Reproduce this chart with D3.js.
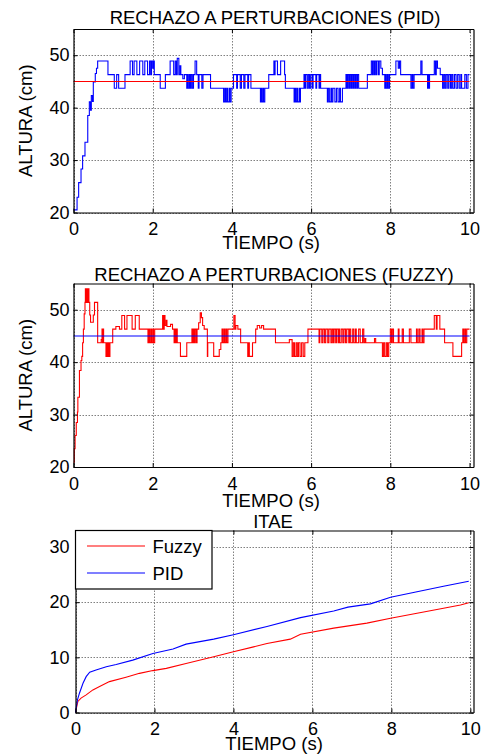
<!DOCTYPE html>
<html>
<head>
<meta charset="utf-8">
<script src="https://cdn.jsdelivr.net/npm/d3@7"></script>
<style>
    body { margin: 0; background: #fff; }
    svg text { font-family: "Liberation Sans", Arial, sans-serif; fill: #000; }
</style>
</head>
<body>
<div class="chart"></div>
<script>
// [tiempo (s), altura (cm)] - step changes of the measured level
var pidHeight = [
    [0, 20.5], [0.09, 22.9], [0.13, 25.7], [0.19, 28.3], [0.23, 30.8], [0.29, 33.4], [0.36, 38.5],
    [0.4, 41.1], [0.43, 39.5], [0.45, 42.3], [0.48, 41.2], [0.5, 44.9], [0.55, 46.5], [0.58, 47.5],
    [0.61, 48.9], [0.87, 46.3], [1.03, 43.7], [1.09, 46.3], [1.14, 43.7], [1.3, 46.3], [1.43, 48.9],
    [1.49, 46.3], [1.53, 48.9], [1.6, 46.3], [1.67, 48.9], [1.75, 46.3], [1.8, 48.9], [1.87, 46.3],
    [1.92, 48.9], [1.95, 46.3], [1.97, 48.9], [2.0, 47.5], [2.02, 48.9], [2.04, 46.3], [2.19, 43.7],
    [2.32, 46.3], [2.44, 48.9], [2.53, 46.3], [2.57, 48.9], [2.6, 46.3], [2.62, 49.4], [2.66, 46.3],
    [2.69, 48.0], [2.71, 46.3], [2.76, 45.5], [2.8, 46.3], [2.86, 43.7], [2.88, 46.3], [2.9, 43.7],
    [2.93, 46.3], [2.95, 43.7], [2.97, 46.3], [3.0, 43.7], [3.03, 46.3], [3.07, 48.9], [3.11, 46.3],
    [3.15, 43.7], [3.17, 46.3], [3.24, 43.7], [3.27, 46.3], [3.46, 43.7], [3.79, 41.1], [3.82, 43.7],
    [3.84, 41.1], [3.87, 43.7], [3.89, 41.1], [3.93, 43.7], [3.95, 41.1], [3.98, 43.7], [4.04, 46.3],
    [4.12, 43.7], [4.14, 46.3], [4.21, 43.7], [4.24, 46.3], [4.3, 43.7], [4.33, 46.3], [4.4, 43.7],
    [4.42, 46.3], [4.48, 43.7], [4.72, 41.1], [4.74, 43.7], [4.76, 41.1], [4.79, 43.7], [4.8, 41.1],
    [4.83, 43.7], [4.93, 46.3], [5.06, 48.9], [5.08, 46.3], [5.09, 48.9], [5.15, 46.3], [5.23, 48.9],
    [5.33, 46.3], [5.35, 43.7], [5.57, 41.1], [5.59, 43.7], [5.61, 41.1], [5.64, 43.7], [5.66, 41.1],
    [5.7, 43.7], [5.72, 41.1], [5.73, 43.7], [5.82, 46.3], [5.84, 43.7], [5.86, 46.3], [5.9, 43.7],
    [5.93, 46.3], [5.96, 43.7], [5.99, 46.3], [6.03, 43.7], [6.05, 46.3], [6.12, 43.7], [6.14, 46.3],
    [6.2, 43.7], [6.22, 46.3], [6.24, 43.7], [6.41, 41.1], [6.43, 43.7], [6.46, 41.1], [6.5, 43.7],
    [6.52, 41.1], [6.55, 43.7], [6.6, 41.1], [6.64, 43.7], [6.68, 41.1], [6.72, 43.7], [6.74, 41.1],
    [6.79, 43.7], [6.88, 46.3], [6.9, 43.7], [6.92, 46.3], [6.95, 43.7], [6.97, 46.3], [7.0, 43.7],
    [7.02, 46.3], [7.05, 43.7], [7.07, 46.3], [7.1, 43.7], [7.12, 46.3], [7.15, 43.7], [7.17, 46.3],
    [7.2, 43.7], [7.42, 46.3], [7.52, 48.9], [7.55, 46.3], [7.57, 48.9], [7.6, 46.3], [7.61, 48.9],
    [7.64, 46.3], [7.66, 48.9], [7.7, 46.3], [7.72, 48.9], [7.76, 47.5], [7.8, 46.3], [7.86, 43.7],
    [7.88, 46.3], [7.9, 43.7], [7.93, 46.3], [7.95, 43.7], [7.98, 46.3], [8.14, 48.9], [8.2, 47.5],
    [8.23, 48.9], [8.26, 46.3], [8.52, 43.7], [8.55, 46.3], [8.57, 43.7], [8.6, 46.3], [8.77, 48.9],
    [8.8, 46.3], [8.94, 43.7], [8.96, 46.3], [8.97, 43.7], [8.99, 46.3], [9.11, 48.9], [9.14, 46.3],
    [9.16, 48.9], [9.19, 47.5], [9.26, 46.3], [9.32, 43.7], [9.35, 46.3], [9.38, 43.7], [9.41, 46.3],
    [9.45, 43.7], [9.48, 46.3], [9.52, 43.7], [9.55, 46.3], [9.58, 43.7], [9.62, 46.3], [9.66, 43.7],
    [9.7, 46.3], [9.74, 43.7], [9.78, 46.3], [9.8, 43.7], [9.88, 46.3], [9.92, 43.7], [9.96, 46.3],
    [10.0, 46.3]
];

var fuzzyHeight = [
    [0, 20.9], [0.02, 23.5], [0.04, 26.0], [0.07, 28.5], [0.1, 30.5], [0.11, 33.3], [0.15, 38.4],
    [0.19, 40.3], [0.21, 41.1], [0.23, 43.7], [0.25, 46.3], [0.27, 49.2], [0.29, 51.4], [0.3, 54.0],
    [0.32, 51.4], [0.34, 54.0], [0.36, 51.4], [0.37, 54.0], [0.39, 51.4], [0.41, 49.0], [0.43, 47.6],
    [0.5, 49.0], [0.53, 51.4], [0.61, 43.7], [0.7, 44.3], [0.72, 46.3], [0.73, 43.7], [0.74, 46.3],
    [0.76, 43.7], [0.82, 41.1], [0.84, 43.7], [0.86, 41.1], [0.88, 43.7], [0.9, 41.1], [0.92, 43.7],
    [0.99, 46.3], [1.07, 46.8], [1.16, 46.3], [1.22, 48.9], [1.29, 46.3], [1.35, 48.9], [1.48, 46.3],
    [1.56, 48.9], [1.66, 46.3], [1.88, 43.7], [1.9, 46.3], [1.92, 43.7], [1.95, 46.3], [1.97, 43.7],
    [2.0, 46.3], [2.02, 43.7], [2.05, 46.3], [2.25, 48.9], [2.27, 46.3], [2.29, 48.9], [2.31, 47.0],
    [2.34, 48.0], [2.36, 46.8], [2.45, 47.2], [2.5, 46.3], [2.54, 43.7], [2.56, 46.3], [2.58, 43.7],
    [2.6, 46.3], [2.62, 43.7], [2.7, 41.1], [2.86, 43.7], [2.99, 46.3], [3.01, 43.7], [3.03, 46.3],
    [3.05, 43.7], [3.07, 46.3], [3.1, 43.7], [3.12, 46.3], [3.16, 47.5], [3.2, 49.4], [3.23, 48.5],
    [3.26, 47.0], [3.3, 46.3], [3.38, 41.1], [3.39, 43.7], [3.54, 41.1], [3.68, 42.4], [3.72, 43.7],
    [3.75, 46.3], [3.77, 43.7], [3.8, 46.3], [3.82, 43.7], [3.85, 46.3], [3.87, 43.7], [3.9, 46.3],
    [4.05, 48.9], [4.08, 46.3], [4.1, 47.0], [4.15, 46.3], [4.22, 43.7], [4.4, 41.1], [4.42, 43.7],
    [4.44, 41.1], [4.52, 43.7], [4.6, 46.3], [4.64, 47.0], [4.7, 46.5], [4.75, 47.0], [4.8, 46.3],
    [5.1, 43.7], [5.45, 44.3], [5.52, 41.1], [5.55, 43.7], [5.58, 41.1], [5.62, 43.7], [5.65, 41.1],
    [5.68, 43.7], [5.72, 41.1], [5.76, 43.7], [5.8, 41.1], [5.84, 43.7], [5.92, 46.3], [6.2, 43.7],
    [6.22, 46.3], [6.27, 43.7], [6.3, 46.3], [6.34, 43.7], [6.37, 46.3], [6.42, 43.7], [6.45, 46.3],
    [6.5, 43.7], [6.53, 46.3], [6.56, 43.7], [6.58, 46.3], [6.62, 43.7], [6.64, 46.3], [6.68, 43.7],
    [6.7, 46.3], [6.72, 43.7], [6.76, 46.3], [6.8, 43.7], [6.83, 46.3], [6.87, 43.7], [6.9, 46.3],
    [6.95, 43.7], [6.97, 46.3], [7.0, 43.7], [7.05, 46.3], [7.08, 43.7], [7.12, 46.3], [7.14, 43.7],
    [7.2, 46.3], [7.24, 43.7], [7.3, 46.3], [7.33, 43.7], [7.36, 44.5], [7.38, 43.7], [7.6, 44.5],
    [7.63, 43.7], [7.8, 41.1], [7.83, 43.7], [7.86, 41.1], [7.9, 43.7], [7.93, 41.1], [7.96, 43.7],
    [8.0, 46.3], [8.03, 43.7], [8.05, 46.3], [8.08, 43.7], [8.2, 46.3], [8.22, 43.7], [8.3, 46.3],
    [8.33, 43.7], [8.48, 46.3], [8.52, 43.7], [8.66, 46.3], [8.68, 43.7], [8.72, 46.3], [8.75, 43.7],
    [8.8, 46.3], [8.82, 43.7], [8.85, 46.3], [9.11, 48.9], [9.16, 46.3], [9.18, 48.9], [9.25, 46.3],
    [9.37, 43.7], [9.58, 41.1], [9.8, 43.7], [9.83, 46.3], [9.85, 43.7], [9.88, 46.3], [9.9, 43.7],
    [9.93, 46.3], [10.0, 46.3]
];

var setpoint = [[0, 45], [10, 45]];

// [tiempo (s), ITAE]
var itaeFuzzy = [
    [0, 0], [0.06, 2.0], [0.14, 2.6], [0.27, 3.2], [0.44, 4.1], [0.61, 4.7], [0.86, 5.6], [1.28, 6.4],
    [1.62, 7.1], [1.96, 7.6], [2.3, 8.0], [2.8, 8.9], [3.5, 10.1], [4.0, 11.0], [4.51, 11.9],
    [4.85, 12.5], [5.44, 13.3], [5.7, 14.2], [6.54, 15.3], [7.38, 16.2], [7.98, 17.1], [8.65, 18.0],
    [9.32, 18.9], [9.75, 19.5], [9.96, 19.9]
];
var itaePid = [
    [0, 0], [0.05, 2.3], [0.1, 3.5], [0.19, 5.3], [0.27, 6.5], [0.36, 7.3], [0.52, 7.7], [0.78, 8.3],
    [1.03, 8.7], [1.45, 9.5], [1.96, 10.7], [2.47, 11.5], [2.8, 12.4], [3.5, 13.3], [4.0, 14.1],
    [4.85, 15.6], [5.7, 17.2], [6.54, 18.4], [6.9, 19.1], [7.47, 19.7], [7.98, 20.9], [8.65, 21.9],
    [9.32, 22.9], [9.96, 23.8]
];

var timeTicks = [0, 2, 4, 6, 8, 10];
var heightTicks = [20, 30, 40, 50];
var itaeTicks = [0, 10, 20, 30];
var legendNames = ['Fuzzy', 'PID'];

var svg = d3.select('.chart')
    .append('svg')
    .attr('width', 483)
    .attr('height', 755);

function drawPanel(p) {
    var x = d3.scaleLinear().domain(p.xDomain).range([p.left, p.right]);
    var y = d3.scaleLinear().domain(p.yDomain).range([p.bottom, p.top]);
    var g = svg.append('g');

    // dotted grid
    g.selectAll('.gx').data(timeTicks).enter().append('line')
        .attr('x1', d => Math.round(x(d)) + 0.5).attr('x2', d => Math.round(x(d)) + 0.5)
        .attr('y1', p.top).attr('y2', p.bottom)
        .attr('stroke', '#808080').attr('stroke-dasharray', '1.5,1.5');
    g.selectAll('.gy').data(p.yTicks).enter().append('line')
        .attr('x1', p.left).attr('x2', p.right)
        .attr('y1', d => Math.round(y(d)) + 0.5).attr('y2', d => Math.round(y(d)) + 0.5)
        .attr('stroke', '#808080').attr('stroke-dasharray', '1.5,1.5');

    var line = d3.line().x(d => x(d[0])).y(d => y(d[1]));
    p.series.forEach(function (s) {
        g.append('path')
            .datum(s.data)
            .attr('d', line.curve(s.step ? d3.curveStepAfter : d3.curveLinear))
            .attr('fill', 'none')
            .attr('stroke', s.color)
            .attr('stroke-width', 1.1);
    });

    // box with inward ticks
    var axes = [
        [d3.axisBottom(x).tickValues(timeTicks), 'translate(0,' + p.bottom + ')', true],
        [d3.axisTop(x).tickValues(timeTicks).tickFormat(''), 'translate(0,' + p.top + ')', false],
        [d3.axisLeft(y).tickValues(p.yTicks), 'translate(' + p.left + ',0)', true],
        [d3.axisRight(y).tickValues(p.yTicks).tickFormat(''), 'translate(' + p.right + ',0)', false]
    ];
    axes.forEach(function (a, i) {
        var ax = g.append('g')
            .attr('transform', a[1])
            .call(a[0].tickSize(-4).tickSizeOuter(0).tickPadding(i == 0 ? 10 : p.yPad));
        ax.select('.domain').attr('stroke', '#000').attr('stroke-width', 1.2);
        ax.selectAll('.tick line').attr('stroke', '#000');
        ax.selectAll('.tick text').attr('font-size', 18).attr('font-family', null);
    });

    g.append('text')
        .attr('x', p.titleX).attr('y', p.titleY)
        .attr('text-anchor', 'middle').attr('font-size', 18.5)
        .text(p.title);
    g.append('text')
        .attr('x', p.xlabelX).attr('y', p.xlabelY)
        .attr('text-anchor', 'middle').attr('font-size', 18.5)
        .text('TIEMPO (s)');
    if (p.ylabel) {
        g.append('text')
            .attr('transform', 'translate(32,' + (p.top + p.bottom) / 2 + ') rotate(-90)')
            .attr('text-anchor', 'middle').attr('font-size', 18.5)
            .text(p.ylabel);
    }
    return { x: x, y: y, g: g };
}

drawPanel({
    left: 73.5, right: 473.5, top: 29, bottom: 212.5,
    xDomain: [0, 10.1], yDomain: [20, 55], yTicks: heightTicks, yPad: 4,
    title: 'RECHAZO A PERTURBACIONES (PID)', titleX: 275, titleY: 24,
    xlabelX: 271, xlabelY: 249, ylabel: 'ALTURA (cm)',
    series: [
        { data: pidHeight, color: '#0000ff', step: true },
        { data: setpoint, color: '#ff0000' }
    ]
});

drawPanel({
    left: 73.5, right: 473.5, top: 283.5, bottom: 467,
    xDomain: [0, 10.1], yDomain: [20, 55], yTicks: heightTicks, yPad: 4,
    title: 'RECHAZO A PERTURBACIONES (FUZZY)', titleX: 274, titleY: 281,
    xlabelX: 271, xlabelY: 506.5, ylabel: 'ALTURA (cm)',
    series: [
        { data: fuzzyHeight, color: '#ff0000', step: true },
        { data: setpoint, color: '#0000ff' }
    ]
});

var itae = drawPanel({
    left: 75.5, right: 473.5, top: 530.5, bottom: 712.5,
    xDomain: [0, 10.08], yDomain: [0, 33], yTicks: itaeTicks, yPad: 6,
    title: 'ITAE', titleX: 273, titleY: 527.5,
    xlabelX: 274, xlabelY: 750,
    series: [
        { data: itaeFuzzy, color: '#ff0000' },
        { data: itaePid, color: '#0000ff' }
    ]
});

// legend
var leg = itae.g.append('g').attr('transform', 'translate(75.5,530.5)');
leg.append('rect')
    .attr('width', 136.5).attr('height', 58.5)
    .attr('fill', '#fff').attr('stroke', '#000').attr('stroke-width', 1.2);
var legColors = ['#ff0000', '#0000ff'];
legendNames.forEach(function (name, i) {
    leg.append('line')
        .attr('x1', 11.5).attr('x2', 69.5)
        .attr('y1', 15.5 + i * 27).attr('y2', 15.5 + i * 27)
        .attr('stroke', legColors[i]).attr('stroke-width', 1.1);
    leg.append('text')
        .attr('x', 77).attr('y', 22 + i * 27)
        .attr('font-size', 18.5)
        .text(name);
});
</script>
</body>
</html>
